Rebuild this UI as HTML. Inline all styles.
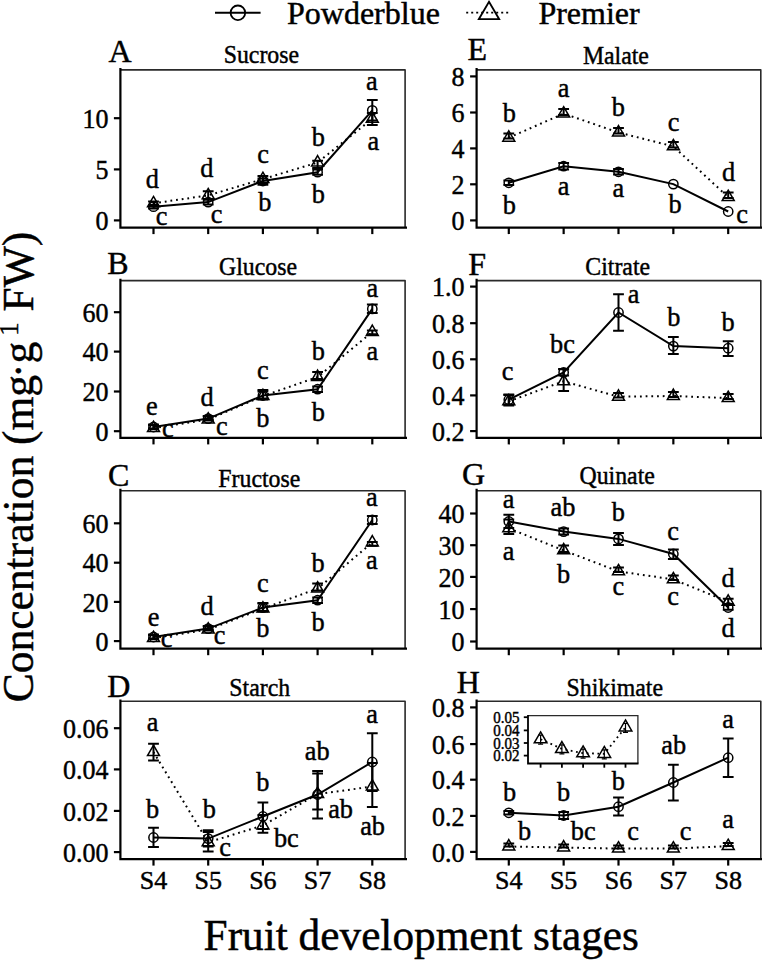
<!DOCTYPE html>
<html><head><meta charset="utf-8"><title>Fruit development stages</title>
<style>html,body{margin:0;padding:0;background:#fff;}svg{display:block;}text{stroke:#000;stroke-width:0.45px;}</style>
</head><body>
<svg width="762" height="960" viewBox="0 0 762 960" font-family='"Liberation Serif", serif'>
<rect width="762" height="960" fill="#fff"/>
<line x1="215" y1="12.8" x2="260.6" y2="12.8" stroke="#000" stroke-width="2"/>
<circle cx="237.9" cy="12.8" r="7.3" fill="none" stroke="#000" stroke-width="1.8"/>
<text x="287.00" y="23.90" font-size="32" text-anchor="start" >Powderblue</text>
<line x1="466.2" y1="12.6" x2="508.9" y2="12.6" stroke="#000" stroke-width="1.8" stroke-dasharray="2 3"/>
<polygon points="489,1.8 499.2,19.2 478.8,19.2" fill="none" stroke="#000" stroke-width="1.8"/>
<text x="538.40" y="23.90" font-size="32" text-anchor="start" >Premier</text>
<text transform="translate(33.3,702.3) rotate(-90)" font-size="43.5" text-anchor="start">Concentration (mg<tspan dx="-3">·g</tspan><tspan dx="6" dy="-15.5" font-size="26.5">1</tspan><tspan dy="15.5"> FW)</tspan></text>
<text x="203.60" y="950.30" font-size="43.3" text-anchor="start" >Fruit development stages</text>
<path d="M120.40,69.90 H405.10 V227.60" fill="none" stroke="#2a2a2a" stroke-width="1.6" stroke-linejoin="round"/>
<path d="M120.40,69.10 V227.60 H405.90" fill="none" stroke="#000" stroke-width="2.2" stroke-linecap="square"/>
<line x1="113.90" y1="220.40" x2="120.40" y2="220.40" stroke="#000" stroke-width="2.2"/>
<text transform="translate(108.40,230.00) scale(0.956,1)" font-size="27.2" text-anchor="end" >0</text>
<line x1="113.90" y1="169.40" x2="120.40" y2="169.40" stroke="#000" stroke-width="2.2"/>
<text transform="translate(108.40,179.00) scale(0.956,1)" font-size="27.2" text-anchor="end" >5</text>
<line x1="113.90" y1="118.20" x2="120.40" y2="118.20" stroke="#000" stroke-width="2.2"/>
<text transform="translate(108.40,127.80) scale(0.956,1)" font-size="27.2" text-anchor="end" >10</text>
<line x1="153.50" y1="227.60" x2="153.50" y2="234.10" stroke="#000" stroke-width="2.2"/>
<line x1="208.20" y1="227.60" x2="208.20" y2="234.10" stroke="#000" stroke-width="2.2"/>
<line x1="262.90" y1="227.60" x2="262.90" y2="234.10" stroke="#000" stroke-width="2.2"/>
<line x1="317.60" y1="227.60" x2="317.60" y2="234.10" stroke="#000" stroke-width="2.2"/>
<line x1="372.30" y1="227.60" x2="372.30" y2="234.10" stroke="#000" stroke-width="2.2"/>
<text x="108.40" y="62.00" font-size="32" text-anchor="start" >A</text>
<text transform="translate(261.40,62.90) scale(0.952,1)" font-size="25" text-anchor="middle" >Sucrose</text>
<polyline points="153.50,203.30 208.20,195.40 262.90,179.10 317.60,162.50 372.30,118.80" fill="none" stroke="#000" stroke-width="2.0" stroke-dasharray="1.8 3.9"/>
<polyline points="153.50,206.70 208.20,202.10 262.90,181.00 317.60,172.20 372.30,110.30" fill="none" stroke="#000" stroke-width="2.0"/>
<path d="M153.50,205.00 V208.50 M148.10,205.00 H158.90 M148.10,208.50 H158.90" fill="none" stroke="#000" stroke-width="2.0"/>
<path d="M208.20,199.50 V204.50 M202.80,199.50 H213.60 M202.80,204.50 H213.60" fill="none" stroke="#000" stroke-width="2.0"/>
<path d="M262.90,178.50 V183.10 M257.50,178.50 H268.30 M257.50,183.10 H268.30" fill="none" stroke="#000" stroke-width="2.0"/>
<path d="M317.60,169.50 V174.80 M312.20,169.50 H323.00 M312.20,174.80 H323.00" fill="none" stroke="#000" stroke-width="2.0"/>
<path d="M372.30,99.90 V120.50 M366.90,99.90 H377.70 M366.90,120.50 H377.70" fill="none" stroke="#000" stroke-width="2.0"/>
<path d="M153.50,201.50 V205.00 M148.10,201.50 H158.90 M148.10,205.00 H158.90" fill="none" stroke="#000" stroke-width="2.0"/>
<path d="M208.20,191.20 V199.50 M202.80,191.20 H213.60 M202.80,199.50 H213.60" fill="none" stroke="#000" stroke-width="2.0"/>
<path d="M262.90,176.00 V184.80 M257.50,176.00 H268.30 M257.50,184.80 H268.30" fill="none" stroke="#000" stroke-width="2.0"/>
<path d="M317.60,160.80 V168.10 M312.20,160.80 H323.00 M312.20,168.10 H323.00" fill="none" stroke="#000" stroke-width="2.0"/>
<path d="M372.30,113.00 V124.90 M366.90,113.00 H377.70 M366.90,124.90 H377.70" fill="none" stroke="#000" stroke-width="2.0"/>
<circle cx="153.50" cy="206.70" r="4.65" fill="none" stroke="#000" stroke-width="1.5"/>
<circle cx="208.20" cy="202.10" r="4.65" fill="none" stroke="#000" stroke-width="1.5"/>
<circle cx="262.90" cy="181.00" r="4.65" fill="none" stroke="#000" stroke-width="1.5"/>
<circle cx="317.60" cy="172.20" r="4.65" fill="none" stroke="#000" stroke-width="1.5"/>
<circle cx="372.30" cy="110.30" r="4.65" fill="none" stroke="#000" stroke-width="1.5"/>
<polygon points="153.50,196.38 159.49,206.76 147.51,206.76" fill="none" stroke="#000" stroke-width="1.5" stroke-linejoin="miter"/>
<polygon points="208.20,188.48 214.19,198.86 202.21,198.86" fill="none" stroke="#000" stroke-width="1.5" stroke-linejoin="miter"/>
<polygon points="262.90,172.18 268.89,182.56 256.91,182.56" fill="none" stroke="#000" stroke-width="1.5" stroke-linejoin="miter"/>
<polygon points="317.60,155.58 323.59,165.96 311.61,165.96" fill="none" stroke="#000" stroke-width="1.5" stroke-linejoin="miter"/>
<polygon points="372.30,111.88 378.29,122.26 366.31,122.26" fill="none" stroke="#000" stroke-width="1.5" stroke-linejoin="miter"/>
<text transform="translate(152.40,187.50) scale(0.975,1)" font-size="27.0" text-anchor="middle" >d</text>
<text transform="translate(161.60,224.70) scale(0.975,1)" font-size="27.0" text-anchor="middle" >c</text>
<text transform="translate(206.90,177.10) scale(0.975,1)" font-size="27.0" text-anchor="middle" >d</text>
<text transform="translate(216.60,222.60) scale(0.975,1)" font-size="27.0" text-anchor="middle" >c</text>
<text transform="translate(263.10,163.40) scale(0.975,1)" font-size="27.0" text-anchor="middle" >c</text>
<text transform="translate(264.80,210.60) scale(0.975,1)" font-size="27.0" text-anchor="middle" >b</text>
<text transform="translate(318.30,146.00) scale(0.975,1)" font-size="27.0" text-anchor="middle" >b</text>
<text transform="translate(318.30,202.90) scale(0.975,1)" font-size="27.0" text-anchor="middle" >b</text>
<text transform="translate(371.90,90.30) scale(0.975,1)" font-size="27.0" text-anchor="middle" >a</text>
<text transform="translate(373.30,149.70) scale(0.975,1)" font-size="27.0" text-anchor="middle" >a</text>
<path d="M120.40,280.60 H405.10 V437.90" fill="none" stroke="#2a2a2a" stroke-width="1.6" stroke-linejoin="round"/>
<path d="M120.40,279.80 V437.90 H405.90" fill="none" stroke="#000" stroke-width="2.2" stroke-linecap="square"/>
<line x1="113.90" y1="431.20" x2="120.40" y2="431.20" stroke="#000" stroke-width="2.2"/>
<text transform="translate(108.40,440.80) scale(0.956,1)" font-size="27.2" text-anchor="end" >0</text>
<line x1="113.90" y1="391.50" x2="120.40" y2="391.50" stroke="#000" stroke-width="2.2"/>
<text transform="translate(108.40,401.10) scale(0.956,1)" font-size="27.2" text-anchor="end" >20</text>
<line x1="113.90" y1="351.60" x2="120.40" y2="351.60" stroke="#000" stroke-width="2.2"/>
<text transform="translate(108.40,361.20) scale(0.956,1)" font-size="27.2" text-anchor="end" >40</text>
<line x1="113.90" y1="312.20" x2="120.40" y2="312.20" stroke="#000" stroke-width="2.2"/>
<text transform="translate(108.40,321.80) scale(0.956,1)" font-size="27.2" text-anchor="end" >60</text>
<line x1="153.50" y1="437.90" x2="153.50" y2="444.40" stroke="#000" stroke-width="2.2"/>
<line x1="208.20" y1="437.90" x2="208.20" y2="444.40" stroke="#000" stroke-width="2.2"/>
<line x1="262.90" y1="437.90" x2="262.90" y2="444.40" stroke="#000" stroke-width="2.2"/>
<line x1="317.60" y1="437.90" x2="317.60" y2="444.40" stroke="#000" stroke-width="2.2"/>
<line x1="372.30" y1="437.90" x2="372.30" y2="444.40" stroke="#000" stroke-width="2.2"/>
<text x="107.30" y="274.10" font-size="32" text-anchor="start" >B</text>
<text transform="translate(258.00,274.50) scale(0.952,1)" font-size="25" text-anchor="middle" >Glucose</text>
<polyline points="153.50,428.10 208.20,419.60 262.90,396.10 317.60,377.00 372.30,332.00" fill="none" stroke="#000" stroke-width="2.0" stroke-dasharray="1.8 3.9"/>
<polyline points="153.50,427.00 208.20,418.60 262.90,395.50 317.60,389.20 372.30,308.90" fill="none" stroke="#000" stroke-width="2.0"/>
<path d="M153.50,425.00 V429.00 M148.10,425.00 H158.90 M148.10,429.00 H158.90" fill="none" stroke="#000" stroke-width="2.0"/>
<path d="M208.20,416.50 V420.50 M202.80,416.50 H213.60 M202.80,420.50 H213.60" fill="none" stroke="#000" stroke-width="2.0"/>
<path d="M262.90,391.50 V399.50 M257.50,391.50 H268.30 M257.50,399.50 H268.30" fill="none" stroke="#000" stroke-width="2.0"/>
<path d="M317.60,386.50 V392.00 M312.20,386.50 H323.00 M312.20,392.00 H323.00" fill="none" stroke="#000" stroke-width="2.0"/>
<path d="M372.30,304.60 V312.90 M366.90,304.60 H377.70 M366.90,312.90 H377.70" fill="none" stroke="#000" stroke-width="2.0"/>
<path d="M153.50,424.50 V428.50 M148.10,424.50 H158.90 M148.10,428.50 H158.90" fill="none" stroke="#000" stroke-width="2.0"/>
<path d="M208.20,416.00 V420.00 M202.80,416.00 H213.60 M202.80,420.00 H213.60" fill="none" stroke="#000" stroke-width="2.0"/>
<path d="M262.90,390.00 V398.50 M257.50,390.00 H268.30 M257.50,398.50 H268.30" fill="none" stroke="#000" stroke-width="2.0"/>
<path d="M317.60,372.00 V379.00 M312.20,372.00 H323.00 M312.20,379.00 H323.00" fill="none" stroke="#000" stroke-width="2.0"/>
<path d="M372.30,330.60 V334.30 M366.90,330.60 H377.70 M366.90,334.30 H377.70" fill="none" stroke="#000" stroke-width="2.0"/>
<circle cx="153.50" cy="427.00" r="4.65" fill="none" stroke="#000" stroke-width="1.5"/>
<circle cx="208.20" cy="418.60" r="4.65" fill="none" stroke="#000" stroke-width="1.5"/>
<circle cx="262.90" cy="395.50" r="4.65" fill="none" stroke="#000" stroke-width="1.5"/>
<circle cx="317.60" cy="389.20" r="4.65" fill="none" stroke="#000" stroke-width="1.5"/>
<circle cx="372.30" cy="308.90" r="4.65" fill="none" stroke="#000" stroke-width="1.5"/>
<polygon points="153.50,421.18 159.49,431.56 147.51,431.56" fill="none" stroke="#000" stroke-width="1.5" stroke-linejoin="miter"/>
<polygon points="208.20,412.68 214.19,423.06 202.21,423.06" fill="none" stroke="#000" stroke-width="1.5" stroke-linejoin="miter"/>
<polygon points="262.90,389.18 268.89,399.56 256.91,399.56" fill="none" stroke="#000" stroke-width="1.5" stroke-linejoin="miter"/>
<polygon points="317.60,370.08 323.59,380.46 311.61,380.46" fill="none" stroke="#000" stroke-width="1.5" stroke-linejoin="miter"/>
<polygon points="372.30,325.08 378.29,335.46 366.31,335.46" fill="none" stroke="#000" stroke-width="1.5" stroke-linejoin="miter"/>
<text transform="translate(151.90,415.40) scale(0.975,1)" font-size="27.0" text-anchor="middle" >e</text>
<text transform="translate(167.90,437.40) scale(0.975,1)" font-size="27.0" text-anchor="middle" >c</text>
<text transform="translate(207.10,405.90) scale(0.975,1)" font-size="27.0" text-anchor="middle" >d</text>
<text transform="translate(221.80,434.70) scale(0.975,1)" font-size="27.0" text-anchor="middle" >c</text>
<text transform="translate(262.80,378.60) scale(0.975,1)" font-size="27.0" text-anchor="middle" >c</text>
<text transform="translate(262.80,426.90) scale(0.975,1)" font-size="27.0" text-anchor="middle" >b</text>
<text transform="translate(318.20,360.40) scale(0.975,1)" font-size="27.0" text-anchor="middle" >b</text>
<text transform="translate(318.20,420.60) scale(0.975,1)" font-size="27.0" text-anchor="middle" >b</text>
<text transform="translate(372.40,296.70) scale(0.975,1)" font-size="27.0" text-anchor="middle" >a</text>
<text transform="translate(372.40,359.70) scale(0.975,1)" font-size="27.0" text-anchor="middle" >a</text>
<path d="M120.40,490.70 H405.10 V648.70" fill="none" stroke="#2a2a2a" stroke-width="1.6" stroke-linejoin="round"/>
<path d="M120.40,489.90 V648.70 H405.90" fill="none" stroke="#000" stroke-width="2.2" stroke-linecap="square"/>
<line x1="113.90" y1="641.10" x2="120.40" y2="641.10" stroke="#000" stroke-width="2.2"/>
<text transform="translate(108.40,650.70) scale(0.956,1)" font-size="27.2" text-anchor="end" >0</text>
<line x1="113.90" y1="601.90" x2="120.40" y2="601.90" stroke="#000" stroke-width="2.2"/>
<text transform="translate(108.40,611.50) scale(0.956,1)" font-size="27.2" text-anchor="end" >20</text>
<line x1="113.90" y1="562.70" x2="120.40" y2="562.70" stroke="#000" stroke-width="2.2"/>
<text transform="translate(108.40,572.30) scale(0.956,1)" font-size="27.2" text-anchor="end" >40</text>
<line x1="113.90" y1="523.30" x2="120.40" y2="523.30" stroke="#000" stroke-width="2.2"/>
<text transform="translate(108.40,532.90) scale(0.956,1)" font-size="27.2" text-anchor="end" >60</text>
<line x1="153.50" y1="648.70" x2="153.50" y2="655.20" stroke="#000" stroke-width="2.2"/>
<line x1="208.20" y1="648.70" x2="208.20" y2="655.20" stroke="#000" stroke-width="2.2"/>
<line x1="262.90" y1="648.70" x2="262.90" y2="655.20" stroke="#000" stroke-width="2.2"/>
<line x1="317.60" y1="648.70" x2="317.60" y2="655.20" stroke="#000" stroke-width="2.2"/>
<line x1="372.30" y1="648.70" x2="372.30" y2="655.20" stroke="#000" stroke-width="2.2"/>
<text x="107.90" y="486.00" font-size="32" text-anchor="start" >C</text>
<text transform="translate(259.30,487.00) scale(0.952,1)" font-size="25" text-anchor="middle" >Fructose</text>
<polyline points="153.50,638.10 208.20,629.60 262.90,608.60 317.60,588.60 372.30,542.50" fill="none" stroke="#000" stroke-width="2.0" stroke-dasharray="1.8 3.9"/>
<polyline points="153.50,637.00 208.20,628.60 262.90,607.60 317.60,600.20 372.30,520.00" fill="none" stroke="#000" stroke-width="2.0"/>
<path d="M153.50,635.00 V639.00 M148.10,635.00 H158.90 M148.10,639.00 H158.90" fill="none" stroke="#000" stroke-width="2.0"/>
<path d="M208.20,626.50 V630.50 M202.80,626.50 H213.60 M202.80,630.50 H213.60" fill="none" stroke="#000" stroke-width="2.0"/>
<path d="M262.90,603.50 V611.50 M257.50,603.50 H268.30 M257.50,611.50 H268.30" fill="none" stroke="#000" stroke-width="2.0"/>
<path d="M317.60,597.50 V603.00 M312.20,597.50 H323.00 M312.20,603.00 H323.00" fill="none" stroke="#000" stroke-width="2.0"/>
<path d="M372.30,516.00 V524.00 M366.90,516.00 H377.70 M366.90,524.00 H377.70" fill="none" stroke="#000" stroke-width="2.0"/>
<path d="M153.50,634.50 V638.50 M148.10,634.50 H158.90 M148.10,638.50 H158.90" fill="none" stroke="#000" stroke-width="2.0"/>
<path d="M208.20,626.00 V630.00 M202.80,626.00 H213.60 M202.80,630.00 H213.60" fill="none" stroke="#000" stroke-width="2.0"/>
<path d="M262.90,603.00 V611.00 M257.50,603.00 H268.30 M257.50,611.00 H268.30" fill="none" stroke="#000" stroke-width="2.0"/>
<path d="M317.60,583.50 V590.50 M312.20,583.50 H323.00 M312.20,590.50 H323.00" fill="none" stroke="#000" stroke-width="2.0"/>
<path d="M372.30,541.90 V545.80 M366.90,541.90 H377.70 M366.90,545.80 H377.70" fill="none" stroke="#000" stroke-width="2.0"/>
<circle cx="153.50" cy="637.00" r="4.65" fill="none" stroke="#000" stroke-width="1.5"/>
<circle cx="208.20" cy="628.60" r="4.65" fill="none" stroke="#000" stroke-width="1.5"/>
<circle cx="262.90" cy="607.60" r="4.65" fill="none" stroke="#000" stroke-width="1.5"/>
<circle cx="317.60" cy="600.20" r="4.65" fill="none" stroke="#000" stroke-width="1.5"/>
<circle cx="372.30" cy="520.00" r="4.65" fill="none" stroke="#000" stroke-width="1.5"/>
<polygon points="153.50,631.18 159.49,641.56 147.51,641.56" fill="none" stroke="#000" stroke-width="1.5" stroke-linejoin="miter"/>
<polygon points="208.20,622.68 214.19,633.06 202.21,633.06" fill="none" stroke="#000" stroke-width="1.5" stroke-linejoin="miter"/>
<polygon points="262.90,601.68 268.89,612.06 256.91,612.06" fill="none" stroke="#000" stroke-width="1.5" stroke-linejoin="miter"/>
<polygon points="317.60,581.68 323.59,592.06 311.61,592.06" fill="none" stroke="#000" stroke-width="1.5" stroke-linejoin="miter"/>
<polygon points="372.30,535.58 378.29,545.96 366.31,545.96" fill="none" stroke="#000" stroke-width="1.5" stroke-linejoin="miter"/>
<text transform="translate(153.50,625.60) scale(0.975,1)" font-size="27.0" text-anchor="middle" >e</text>
<text transform="translate(166.60,647.40) scale(0.975,1)" font-size="27.0" text-anchor="middle" >c</text>
<text transform="translate(207.00,614.90) scale(0.975,1)" font-size="27.0" text-anchor="middle" >d</text>
<text transform="translate(219.70,644.30) scale(0.975,1)" font-size="27.0" text-anchor="middle" >c</text>
<text transform="translate(262.80,591.80) scale(0.975,1)" font-size="27.0" text-anchor="middle" >c</text>
<text transform="translate(262.80,636.90) scale(0.975,1)" font-size="27.0" text-anchor="middle" >b</text>
<text transform="translate(318.00,571.80) scale(0.975,1)" font-size="27.0" text-anchor="middle" >b</text>
<text transform="translate(318.00,630.60) scale(0.975,1)" font-size="27.0" text-anchor="middle" >b</text>
<text transform="translate(371.80,506.10) scale(0.975,1)" font-size="27.0" text-anchor="middle" >a</text>
<text transform="translate(371.80,568.70) scale(0.975,1)" font-size="27.0" text-anchor="middle" >a</text>
<path d="M120.40,701.30 H405.10 V859.10" fill="none" stroke="#2a2a2a" stroke-width="1.6" stroke-linejoin="round"/>
<path d="M120.40,700.50 V859.10 H405.90" fill="none" stroke="#000" stroke-width="2.2" stroke-linecap="square"/>
<line x1="113.90" y1="852.10" x2="120.40" y2="852.10" stroke="#000" stroke-width="2.2"/>
<text transform="translate(108.40,861.70) scale(0.956,1)" font-size="27.2" text-anchor="end" >0.00</text>
<line x1="113.90" y1="810.90" x2="120.40" y2="810.90" stroke="#000" stroke-width="2.2"/>
<text transform="translate(108.40,820.50) scale(0.956,1)" font-size="27.2" text-anchor="end" >0.02</text>
<line x1="113.90" y1="769.40" x2="120.40" y2="769.40" stroke="#000" stroke-width="2.2"/>
<text transform="translate(108.40,779.00) scale(0.956,1)" font-size="27.2" text-anchor="end" >0.04</text>
<line x1="113.90" y1="728.20" x2="120.40" y2="728.20" stroke="#000" stroke-width="2.2"/>
<text transform="translate(108.40,737.80) scale(0.956,1)" font-size="27.2" text-anchor="end" >0.06</text>
<line x1="153.50" y1="859.10" x2="153.50" y2="865.60" stroke="#000" stroke-width="2.2"/>
<line x1="208.20" y1="859.10" x2="208.20" y2="865.60" stroke="#000" stroke-width="2.2"/>
<line x1="262.90" y1="859.10" x2="262.90" y2="865.60" stroke="#000" stroke-width="2.2"/>
<line x1="317.60" y1="859.10" x2="317.60" y2="865.60" stroke="#000" stroke-width="2.2"/>
<line x1="372.30" y1="859.10" x2="372.30" y2="865.60" stroke="#000" stroke-width="2.2"/>
<text x="107.30" y="696.50" font-size="32" text-anchor="start" >D</text>
<text transform="translate(259.70,696.10) scale(0.952,1)" font-size="25" text-anchor="middle" >Starch</text>
<polyline points="153.50,752.10 208.20,842.30 262.90,825.50 317.60,794.00 372.30,786.60" fill="none" stroke="#000" stroke-width="2.0" stroke-dasharray="1.8 3.9"/>
<polyline points="153.50,837.50 208.20,838.60 262.90,816.50 317.60,794.50 372.30,762.00" fill="none" stroke="#000" stroke-width="2.0"/>
<path d="M153.50,827.70 V847.00 M148.10,827.70 H158.90 M148.10,847.00 H158.90" fill="none" stroke="#000" stroke-width="2.0"/>
<path d="M208.20,830.20 V846.50 M202.80,830.20 H213.60 M202.80,846.50 H213.60" fill="none" stroke="#000" stroke-width="2.0"/>
<path d="M262.90,802.50 V829.00 M257.50,802.50 H268.30 M257.50,829.00 H268.30" fill="none" stroke="#000" stroke-width="2.0"/>
<path d="M317.60,771.00 V818.60 M312.20,771.00 H323.00 M312.20,818.60 H323.00" fill="none" stroke="#000" stroke-width="2.0"/>
<path d="M372.30,733.20 V791.00 M366.90,733.20 H377.70 M366.90,791.00 H377.70" fill="none" stroke="#000" stroke-width="2.0"/>
<path d="M153.50,743.80 V760.40 M148.10,743.80 H158.90 M148.10,760.40 H158.90" fill="none" stroke="#000" stroke-width="2.0"/>
<path d="M208.20,832.00 V851.60 M202.80,832.00 H213.60 M202.80,851.60 H213.60" fill="none" stroke="#000" stroke-width="2.0"/>
<path d="M262.90,815.00 V832.70 M257.50,815.00 H268.30 M257.50,832.70 H268.30" fill="none" stroke="#000" stroke-width="2.0"/>
<path d="M317.60,773.50 V809.60 M312.20,773.50 H323.00 M312.20,809.60 H323.00" fill="none" stroke="#000" stroke-width="2.0"/>
<path d="M372.30,763.00 V807.00 M366.90,763.00 H377.70 M366.90,807.00 H377.70" fill="none" stroke="#000" stroke-width="2.0"/>
<circle cx="153.50" cy="837.50" r="4.65" fill="none" stroke="#000" stroke-width="1.5"/>
<circle cx="208.20" cy="838.60" r="4.65" fill="none" stroke="#000" stroke-width="1.5"/>
<circle cx="262.90" cy="816.50" r="4.65" fill="none" stroke="#000" stroke-width="1.5"/>
<circle cx="317.60" cy="794.50" r="4.65" fill="none" stroke="#000" stroke-width="1.5"/>
<circle cx="372.30" cy="762.00" r="4.65" fill="none" stroke="#000" stroke-width="1.5"/>
<polygon points="153.50,745.18 159.49,755.56 147.51,755.56" fill="none" stroke="#000" stroke-width="1.5" stroke-linejoin="miter"/>
<polygon points="208.20,835.38 214.19,845.76 202.21,845.76" fill="none" stroke="#000" stroke-width="1.5" stroke-linejoin="miter"/>
<polygon points="262.90,818.58 268.89,828.96 256.91,828.96" fill="none" stroke="#000" stroke-width="1.5" stroke-linejoin="miter"/>
<polygon points="317.60,787.08 323.59,797.46 311.61,797.46" fill="none" stroke="#000" stroke-width="1.5" stroke-linejoin="miter"/>
<polygon points="372.30,779.68 378.29,790.06 366.31,790.06" fill="none" stroke="#000" stroke-width="1.5" stroke-linejoin="miter"/>
<text transform="translate(152.50,731.40) scale(0.975,1)" font-size="27.0" text-anchor="middle" >a</text>
<text transform="translate(152.50,817.50) scale(0.975,1)" font-size="27.0" text-anchor="middle" >b</text>
<text transform="translate(209.20,817.50) scale(0.975,1)" font-size="27.0" text-anchor="middle" >b</text>
<text transform="translate(225.00,856.40) scale(0.975,1)" font-size="27.0" text-anchor="middle" >c</text>
<text transform="translate(262.70,790.90) scale(0.975,1)" font-size="27.0" text-anchor="middle" >b</text>
<text transform="translate(286.30,846.90) scale(0.975,1)" font-size="27.0" text-anchor="middle" >bc</text>
<text transform="translate(317.20,759.80) scale(0.975,1)" font-size="27.0" text-anchor="middle" >ab</text>
<text transform="translate(340.60,817.50) scale(0.975,1)" font-size="27.0" text-anchor="middle" >ab</text>
<text transform="translate(372.20,723.00) scale(0.975,1)" font-size="27.0" text-anchor="middle" >a</text>
<text transform="translate(372.60,835.40) scale(0.975,1)" font-size="27.0" text-anchor="middle" >ab</text>
<path d="M476.60,69.90 H760.80 V227.60" fill="none" stroke="#2a2a2a" stroke-width="1.6" stroke-linejoin="round"/>
<path d="M476.60,69.10 V227.60 H761.60" fill="none" stroke="#000" stroke-width="2.2" stroke-linecap="square"/>
<line x1="470.10" y1="220.40" x2="476.60" y2="220.40" stroke="#000" stroke-width="2.2"/>
<text transform="translate(464.60,230.00) scale(0.956,1)" font-size="27.2" text-anchor="end" >0</text>
<line x1="470.10" y1="184.30" x2="476.60" y2="184.30" stroke="#000" stroke-width="2.2"/>
<text transform="translate(464.60,193.90) scale(0.956,1)" font-size="27.2" text-anchor="end" >2</text>
<line x1="470.10" y1="148.40" x2="476.60" y2="148.40" stroke="#000" stroke-width="2.2"/>
<text transform="translate(464.60,158.00) scale(0.956,1)" font-size="27.2" text-anchor="end" >4</text>
<line x1="470.10" y1="112.50" x2="476.60" y2="112.50" stroke="#000" stroke-width="2.2"/>
<text transform="translate(464.60,122.10) scale(0.956,1)" font-size="27.2" text-anchor="end" >6</text>
<line x1="470.10" y1="76.40" x2="476.60" y2="76.40" stroke="#000" stroke-width="2.2"/>
<text transform="translate(464.60,86.00) scale(0.956,1)" font-size="27.2" text-anchor="end" >8</text>
<line x1="508.80" y1="227.60" x2="508.80" y2="234.10" stroke="#000" stroke-width="2.2"/>
<line x1="563.65" y1="227.60" x2="563.65" y2="234.10" stroke="#000" stroke-width="2.2"/>
<line x1="618.50" y1="227.60" x2="618.50" y2="234.10" stroke="#000" stroke-width="2.2"/>
<line x1="673.35" y1="227.60" x2="673.35" y2="234.10" stroke="#000" stroke-width="2.2"/>
<line x1="728.20" y1="227.60" x2="728.20" y2="234.10" stroke="#000" stroke-width="2.2"/>
<text x="467.50" y="60.40" font-size="32" text-anchor="start" >E</text>
<text transform="translate(615.90,64.10) scale(0.952,1)" font-size="25" text-anchor="middle" >Malate</text>
<polyline points="508.80,137.70 563.65,113.60 618.50,132.50 673.35,146.40 728.20,197.10" fill="none" stroke="#000" stroke-width="2.0" stroke-dasharray="1.8 3.9"/>
<polyline points="508.80,182.80 563.65,166.20 618.50,171.80 673.35,184.10 728.20,211.50" fill="none" stroke="#000" stroke-width="2.0"/>
<path d="M508.80,180.50 V185.00 M503.40,180.50 H514.20 M503.40,185.00 H514.20" fill="none" stroke="#000" stroke-width="2.0"/>
<path d="M563.65,163.00 V169.50 M558.25,163.00 H569.05 M558.25,169.50 H569.05" fill="none" stroke="#000" stroke-width="2.0"/>
<path d="M618.50,169.00 V174.50 M613.10,169.00 H623.90 M613.10,174.50 H623.90" fill="none" stroke="#000" stroke-width="2.0"/>
<path d="M508.80,133.50 V138.50 M503.40,133.50 H514.20 M503.40,138.50 H514.20" fill="none" stroke="#000" stroke-width="2.0"/>
<path d="M563.65,109.00 V115.00 M558.25,109.00 H569.05 M558.25,115.00 H569.05" fill="none" stroke="#000" stroke-width="2.0"/>
<path d="M618.50,128.00 V133.50 M613.10,128.00 H623.90 M613.10,133.50 H623.90" fill="none" stroke="#000" stroke-width="2.0"/>
<path d="M673.35,142.00 V147.50 M667.95,142.00 H678.75 M667.95,147.50 H678.75" fill="none" stroke="#000" stroke-width="2.0"/>
<path d="M728.20,192.50 V198.00 M722.80,192.50 H733.60 M722.80,198.00 H733.60" fill="none" stroke="#000" stroke-width="2.0"/>
<circle cx="508.80" cy="182.80" r="4.65" fill="none" stroke="#000" stroke-width="1.5"/>
<circle cx="563.65" cy="166.20" r="4.65" fill="none" stroke="#000" stroke-width="1.5"/>
<circle cx="618.50" cy="171.80" r="4.65" fill="none" stroke="#000" stroke-width="1.5"/>
<circle cx="673.35" cy="184.10" r="4.65" fill="none" stroke="#000" stroke-width="1.5"/>
<circle cx="728.20" cy="211.50" r="4.65" fill="none" stroke="#000" stroke-width="1.5"/>
<polygon points="508.80,130.78 514.79,141.16 502.81,141.16" fill="none" stroke="#000" stroke-width="1.5" stroke-linejoin="miter"/>
<polygon points="563.65,106.68 569.64,117.06 557.66,117.06" fill="none" stroke="#000" stroke-width="1.5" stroke-linejoin="miter"/>
<polygon points="618.50,125.58 624.49,135.96 612.51,135.96" fill="none" stroke="#000" stroke-width="1.5" stroke-linejoin="miter"/>
<polygon points="673.35,139.48 679.34,149.86 667.36,149.86" fill="none" stroke="#000" stroke-width="1.5" stroke-linejoin="miter"/>
<polygon points="728.20,190.18 734.19,200.56 722.21,200.56" fill="none" stroke="#000" stroke-width="1.5" stroke-linejoin="miter"/>
<text transform="translate(509.20,122.40) scale(0.975,1)" font-size="27.0" text-anchor="middle" >b</text>
<text transform="translate(509.20,213.80) scale(0.975,1)" font-size="27.0" text-anchor="middle" >b</text>
<text transform="translate(563.60,97.20) scale(0.975,1)" font-size="27.0" text-anchor="middle" >a</text>
<text transform="translate(563.60,194.90) scale(0.975,1)" font-size="27.0" text-anchor="middle" >a</text>
<text transform="translate(618.40,116.10) scale(0.975,1)" font-size="27.0" text-anchor="middle" >b</text>
<text transform="translate(618.40,197.00) scale(0.975,1)" font-size="27.0" text-anchor="middle" >a</text>
<text transform="translate(673.70,130.50) scale(0.975,1)" font-size="27.0" text-anchor="middle" >c</text>
<text transform="translate(675.00,212.50) scale(0.975,1)" font-size="27.0" text-anchor="middle" >b</text>
<text transform="translate(728.60,180.80) scale(0.975,1)" font-size="27.0" text-anchor="middle" >d</text>
<text transform="translate(742.10,223.40) scale(0.975,1)" font-size="27.0" text-anchor="middle" >c</text>
<path d="M476.60,280.60 H760.80 V437.90" fill="none" stroke="#2a2a2a" stroke-width="1.6" stroke-linejoin="round"/>
<path d="M476.60,279.80 V437.90 H761.60" fill="none" stroke="#000" stroke-width="2.2" stroke-linecap="square"/>
<line x1="470.10" y1="431.10" x2="476.60" y2="431.10" stroke="#000" stroke-width="2.2"/>
<text transform="translate(464.60,440.70) scale(0.956,1)" font-size="27.2" text-anchor="end" >0.2</text>
<line x1="470.10" y1="395.40" x2="476.60" y2="395.40" stroke="#000" stroke-width="2.2"/>
<text transform="translate(464.60,405.00) scale(0.956,1)" font-size="27.2" text-anchor="end" >0.4</text>
<line x1="470.10" y1="359.30" x2="476.60" y2="359.30" stroke="#000" stroke-width="2.2"/>
<text transform="translate(464.60,368.90) scale(0.956,1)" font-size="27.2" text-anchor="end" >0.6</text>
<line x1="470.10" y1="323.20" x2="476.60" y2="323.20" stroke="#000" stroke-width="2.2"/>
<text transform="translate(464.60,332.80) scale(0.956,1)" font-size="27.2" text-anchor="end" >0.8</text>
<line x1="470.10" y1="286.60" x2="476.60" y2="286.60" stroke="#000" stroke-width="2.2"/>
<text transform="translate(464.60,296.20) scale(0.956,1)" font-size="27.2" text-anchor="end" >1.0</text>
<line x1="508.80" y1="437.90" x2="508.80" y2="444.40" stroke="#000" stroke-width="2.2"/>
<line x1="563.65" y1="437.90" x2="563.65" y2="444.40" stroke="#000" stroke-width="2.2"/>
<line x1="618.50" y1="437.90" x2="618.50" y2="444.40" stroke="#000" stroke-width="2.2"/>
<line x1="673.35" y1="437.90" x2="673.35" y2="444.40" stroke="#000" stroke-width="2.2"/>
<line x1="728.20" y1="437.90" x2="728.20" y2="444.40" stroke="#000" stroke-width="2.2"/>
<text x="468.30" y="275.40" font-size="32" text-anchor="start" >F</text>
<text transform="translate(617.70,275.30) scale(0.952,1)" font-size="25" text-anchor="middle" >Citrate</text>
<polyline points="508.80,401.30 563.65,381.30 618.50,396.70 673.35,396.00 728.20,398.10" fill="none" stroke="#000" stroke-width="2.0" stroke-dasharray="1.8 3.9"/>
<polyline points="508.80,399.70 563.65,372.40 618.50,312.50 673.35,346.10 728.20,348.20" fill="none" stroke="#000" stroke-width="2.0"/>
<path d="M508.80,394.40 V405.60 M503.40,394.40 H514.20 M503.40,405.60 H514.20" fill="none" stroke="#000" stroke-width="2.0"/>
<path d="M563.65,369.20 V375.60 M558.25,369.20 H569.05 M558.25,375.60 H569.05" fill="none" stroke="#000" stroke-width="2.0"/>
<path d="M618.50,294.30 V330.80 M613.10,294.30 H623.90 M613.10,330.80 H623.90" fill="none" stroke="#000" stroke-width="2.0"/>
<path d="M673.35,337.10 V353.90 M667.95,337.10 H678.75 M667.95,353.90 H678.75" fill="none" stroke="#000" stroke-width="2.0"/>
<path d="M728.20,341.30 V356.00 M722.80,341.30 H733.60 M722.80,356.00 H733.60" fill="none" stroke="#000" stroke-width="2.0"/>
<path d="M508.80,395.00 V404.50 M503.40,395.00 H514.20 M503.40,404.50 H514.20" fill="none" stroke="#000" stroke-width="2.0"/>
<path d="M563.65,369.00 V390.90 M558.25,369.00 H569.05 M558.25,390.90 H569.05" fill="none" stroke="#000" stroke-width="2.0"/>
<path d="M618.50,393.00 V397.50 M613.10,393.00 H623.90 M613.10,397.50 H623.90" fill="none" stroke="#000" stroke-width="2.0"/>
<path d="M673.35,392.00 V397.00 M667.95,392.00 H678.75 M667.95,397.00 H678.75" fill="none" stroke="#000" stroke-width="2.0"/>
<path d="M728.20,394.00 V399.00 M722.80,394.00 H733.60 M722.80,399.00 H733.60" fill="none" stroke="#000" stroke-width="2.0"/>
<circle cx="508.80" cy="399.70" r="4.65" fill="none" stroke="#000" stroke-width="1.5"/>
<circle cx="563.65" cy="372.40" r="4.65" fill="none" stroke="#000" stroke-width="1.5"/>
<circle cx="618.50" cy="312.50" r="4.65" fill="none" stroke="#000" stroke-width="1.5"/>
<circle cx="673.35" cy="346.10" r="4.65" fill="none" stroke="#000" stroke-width="1.5"/>
<circle cx="728.20" cy="348.20" r="4.65" fill="none" stroke="#000" stroke-width="1.5"/>
<polygon points="508.80,394.38 514.79,404.76 502.81,404.76" fill="none" stroke="#000" stroke-width="1.5" stroke-linejoin="miter"/>
<polygon points="563.65,374.38 569.64,384.76 557.66,384.76" fill="none" stroke="#000" stroke-width="1.5" stroke-linejoin="miter"/>
<polygon points="618.50,389.78 624.49,400.16 612.51,400.16" fill="none" stroke="#000" stroke-width="1.5" stroke-linejoin="miter"/>
<polygon points="673.35,389.08 679.34,399.46 667.36,399.46" fill="none" stroke="#000" stroke-width="1.5" stroke-linejoin="miter"/>
<polygon points="728.20,391.18 734.19,401.56 722.21,401.56" fill="none" stroke="#000" stroke-width="1.5" stroke-linejoin="miter"/>
<text transform="translate(507.50,379.70) scale(0.975,1)" font-size="27.0" text-anchor="middle" >c</text>
<text transform="translate(562.40,353.00) scale(0.975,1)" font-size="27.0" text-anchor="middle" >bc</text>
<text transform="translate(633.50,303.00) scale(0.975,1)" font-size="27.0" text-anchor="middle" >a</text>
<text transform="translate(673.80,326.10) scale(0.975,1)" font-size="27.0" text-anchor="middle" >b</text>
<text transform="translate(728.00,331.40) scale(0.975,1)" font-size="27.0" text-anchor="middle" >b</text>
<path d="M476.60,490.70 H760.80 V648.70" fill="none" stroke="#2a2a2a" stroke-width="1.6" stroke-linejoin="round"/>
<path d="M476.60,489.90 V648.70 H761.60" fill="none" stroke="#000" stroke-width="2.2" stroke-linecap="square"/>
<line x1="470.10" y1="641.50" x2="476.60" y2="641.50" stroke="#000" stroke-width="2.2"/>
<text transform="translate(464.60,651.10) scale(0.956,1)" font-size="27.2" text-anchor="end" >0</text>
<line x1="470.10" y1="609.10" x2="476.60" y2="609.10" stroke="#000" stroke-width="2.2"/>
<text transform="translate(464.60,618.70) scale(0.956,1)" font-size="27.2" text-anchor="end" >10</text>
<line x1="470.10" y1="576.90" x2="476.60" y2="576.90" stroke="#000" stroke-width="2.2"/>
<text transform="translate(464.60,586.50) scale(0.956,1)" font-size="27.2" text-anchor="end" >20</text>
<line x1="470.10" y1="545.20" x2="476.60" y2="545.20" stroke="#000" stroke-width="2.2"/>
<text transform="translate(464.60,554.80) scale(0.956,1)" font-size="27.2" text-anchor="end" >30</text>
<line x1="470.10" y1="513.50" x2="476.60" y2="513.50" stroke="#000" stroke-width="2.2"/>
<text transform="translate(464.60,523.10) scale(0.956,1)" font-size="27.2" text-anchor="end" >40</text>
<line x1="508.80" y1="648.70" x2="508.80" y2="655.20" stroke="#000" stroke-width="2.2"/>
<line x1="563.65" y1="648.70" x2="563.65" y2="655.20" stroke="#000" stroke-width="2.2"/>
<line x1="618.50" y1="648.70" x2="618.50" y2="655.20" stroke="#000" stroke-width="2.2"/>
<line x1="673.35" y1="648.70" x2="673.35" y2="655.20" stroke="#000" stroke-width="2.2"/>
<line x1="728.20" y1="648.70" x2="728.20" y2="655.20" stroke="#000" stroke-width="2.2"/>
<text x="462.10" y="485.20" font-size="32" text-anchor="start" >G</text>
<text transform="translate(617.20,483.60) scale(0.952,1)" font-size="25" text-anchor="middle" >Quinate</text>
<polyline points="508.80,528.30 563.65,550.40 618.50,571.40 673.35,579.40 728.20,601.70" fill="none" stroke="#000" stroke-width="2.0" stroke-dasharray="1.8 3.9"/>
<polyline points="508.80,521.50 563.65,531.60 618.50,538.90 673.35,554.00 728.20,607.50" fill="none" stroke="#000" stroke-width="2.0"/>
<path d="M508.80,514.80 V528.00 M503.40,514.80 H514.20 M503.40,528.00 H514.20" fill="none" stroke="#000" stroke-width="2.0"/>
<path d="M563.65,528.50 V534.50 M558.25,528.50 H569.05 M558.25,534.50 H569.05" fill="none" stroke="#000" stroke-width="2.0"/>
<path d="M618.50,533.00 V545.00 M613.10,533.00 H623.90 M613.10,545.00 H623.90" fill="none" stroke="#000" stroke-width="2.0"/>
<path d="M673.35,549.40 V558.90 M667.95,549.40 H678.75 M667.95,558.90 H678.75" fill="none" stroke="#000" stroke-width="2.0"/>
<path d="M728.20,604.00 V609.70 M722.80,604.00 H733.60 M722.80,609.70 H733.60" fill="none" stroke="#000" stroke-width="2.0"/>
<path d="M508.80,519.50 V534.10 M503.40,519.50 H514.20 M503.40,534.10 H514.20" fill="none" stroke="#000" stroke-width="2.0"/>
<path d="M563.65,545.50 V552.00 M558.25,545.50 H569.05 M558.25,552.00 H569.05" fill="none" stroke="#000" stroke-width="2.0"/>
<path d="M618.50,567.50 V572.00 M613.10,567.50 H623.90 M613.10,572.00 H623.90" fill="none" stroke="#000" stroke-width="2.0"/>
<path d="M673.35,575.50 V580.00 M667.95,575.50 H678.75 M667.95,580.00 H678.75" fill="none" stroke="#000" stroke-width="2.0"/>
<path d="M728.20,598.70 V604.50 M722.80,598.70 H733.60 M722.80,604.50 H733.60" fill="none" stroke="#000" stroke-width="2.0"/>
<circle cx="508.80" cy="521.50" r="4.65" fill="none" stroke="#000" stroke-width="1.5"/>
<circle cx="563.65" cy="531.60" r="4.65" fill="none" stroke="#000" stroke-width="1.5"/>
<circle cx="618.50" cy="538.90" r="4.65" fill="none" stroke="#000" stroke-width="1.5"/>
<circle cx="673.35" cy="554.00" r="4.65" fill="none" stroke="#000" stroke-width="1.5"/>
<circle cx="728.20" cy="607.50" r="4.65" fill="none" stroke="#000" stroke-width="1.5"/>
<polygon points="508.80,521.38 514.79,531.76 502.81,531.76" fill="none" stroke="#000" stroke-width="1.5" stroke-linejoin="miter"/>
<polygon points="563.65,543.48 569.64,553.86 557.66,553.86" fill="none" stroke="#000" stroke-width="1.5" stroke-linejoin="miter"/>
<polygon points="618.50,564.48 624.49,574.86 612.51,574.86" fill="none" stroke="#000" stroke-width="1.5" stroke-linejoin="miter"/>
<polygon points="673.35,572.48 679.34,582.86 667.36,582.86" fill="none" stroke="#000" stroke-width="1.5" stroke-linejoin="miter"/>
<polygon points="728.20,594.78 734.19,605.16 722.21,605.16" fill="none" stroke="#000" stroke-width="1.5" stroke-linejoin="miter"/>
<text transform="translate(508.50,507.80) scale(0.975,1)" font-size="27.0" text-anchor="middle" >a</text>
<text transform="translate(508.50,559.90) scale(0.975,1)" font-size="27.0" text-anchor="middle" >a</text>
<text transform="translate(563.00,516.20) scale(0.975,1)" font-size="27.0" text-anchor="middle" >ab</text>
<text transform="translate(563.60,583.40) scale(0.975,1)" font-size="27.0" text-anchor="middle" >b</text>
<text transform="translate(618.40,521.40) scale(0.975,1)" font-size="27.0" text-anchor="middle" >b</text>
<text transform="translate(618.40,595.40) scale(0.975,1)" font-size="27.0" text-anchor="middle" >c</text>
<text transform="translate(673.00,540.30) scale(0.975,1)" font-size="27.0" text-anchor="middle" >c</text>
<text transform="translate(673.00,605.00) scale(0.975,1)" font-size="27.0" text-anchor="middle" >c</text>
<text transform="translate(728.00,586.50) scale(0.975,1)" font-size="27.0" text-anchor="middle" >d</text>
<text transform="translate(728.00,636.50) scale(0.975,1)" font-size="27.0" text-anchor="middle" >d</text>
<path d="M476.60,701.30 H760.80 V859.10" fill="none" stroke="#2a2a2a" stroke-width="1.6" stroke-linejoin="round"/>
<path d="M476.60,700.50 V859.10 H761.60" fill="none" stroke="#000" stroke-width="2.2" stroke-linecap="square"/>
<line x1="470.10" y1="851.90" x2="476.60" y2="851.90" stroke="#000" stroke-width="2.2"/>
<text transform="translate(464.60,861.50) scale(0.956,1)" font-size="27.2" text-anchor="end" >0.0</text>
<line x1="470.10" y1="815.90" x2="476.60" y2="815.90" stroke="#000" stroke-width="2.2"/>
<text transform="translate(464.60,825.50) scale(0.956,1)" font-size="27.2" text-anchor="end" >0.2</text>
<line x1="470.10" y1="779.70" x2="476.60" y2="779.70" stroke="#000" stroke-width="2.2"/>
<text transform="translate(464.60,789.30) scale(0.956,1)" font-size="27.2" text-anchor="end" >0.4</text>
<line x1="470.10" y1="744.10" x2="476.60" y2="744.10" stroke="#000" stroke-width="2.2"/>
<text transform="translate(464.60,753.70) scale(0.956,1)" font-size="27.2" text-anchor="end" >0.6</text>
<line x1="470.10" y1="707.40" x2="476.60" y2="707.40" stroke="#000" stroke-width="2.2"/>
<text transform="translate(464.60,717.00) scale(0.956,1)" font-size="27.2" text-anchor="end" >0.8</text>
<line x1="508.80" y1="859.10" x2="508.80" y2="865.60" stroke="#000" stroke-width="2.2"/>
<line x1="563.65" y1="859.10" x2="563.65" y2="865.60" stroke="#000" stroke-width="2.2"/>
<line x1="618.50" y1="859.10" x2="618.50" y2="865.60" stroke="#000" stroke-width="2.2"/>
<line x1="673.35" y1="859.10" x2="673.35" y2="865.60" stroke="#000" stroke-width="2.2"/>
<line x1="728.20" y1="859.10" x2="728.20" y2="865.60" stroke="#000" stroke-width="2.2"/>
<text x="456.70" y="693.30" font-size="32" text-anchor="start" >H</text>
<text transform="translate(614.80,696.10) scale(0.952,1)" font-size="25" text-anchor="middle" >Shikimate</text>
<polyline points="508.80,846.50 563.65,847.50 618.50,848.60 673.35,848.60 728.20,846.10" fill="none" stroke="#000" stroke-width="2.0" stroke-dasharray="1.8 3.9"/>
<polyline points="508.80,812.80 563.65,815.50 618.50,806.70 673.35,782.50 728.20,757.70" fill="none" stroke="#000" stroke-width="2.0"/>
<path d="M508.80,811.00 V814.60 M503.40,811.00 H514.20 M503.40,814.60 H514.20" fill="none" stroke="#000" stroke-width="2.0"/>
<path d="M563.65,812.00 V819.00 M558.25,812.00 H569.05 M558.25,819.00 H569.05" fill="none" stroke="#000" stroke-width="2.0"/>
<path d="M618.50,797.60 V815.50 M613.10,797.60 H623.90 M613.10,815.50 H623.90" fill="none" stroke="#000" stroke-width="2.0"/>
<path d="M673.35,764.70 V800.40 M667.95,764.70 H678.75 M667.95,800.40 H678.75" fill="none" stroke="#000" stroke-width="2.0"/>
<path d="M728.20,738.40 V777.10 M722.80,738.40 H733.60 M722.80,777.10 H733.60" fill="none" stroke="#000" stroke-width="2.0"/>
<path d="M508.80,843.50 V846.50 M503.40,843.50 H514.20 M503.40,846.50 H514.20" fill="none" stroke="#000" stroke-width="2.0"/>
<path d="M563.65,844.50 V847.50 M558.25,844.50 H569.05 M558.25,847.50 H569.05" fill="none" stroke="#000" stroke-width="2.0"/>
<path d="M618.50,845.50 V848.50 M613.10,845.50 H623.90 M613.10,848.50 H623.90" fill="none" stroke="#000" stroke-width="2.0"/>
<path d="M673.35,845.50 V848.50 M667.95,845.50 H678.75 M667.95,848.50 H678.75" fill="none" stroke="#000" stroke-width="2.0"/>
<path d="M728.20,843.00 V846.00 M722.80,843.00 H733.60 M722.80,846.00 H733.60" fill="none" stroke="#000" stroke-width="2.0"/>
<circle cx="508.80" cy="812.80" r="4.65" fill="none" stroke="#000" stroke-width="1.5"/>
<circle cx="563.65" cy="815.50" r="4.65" fill="none" stroke="#000" stroke-width="1.5"/>
<circle cx="618.50" cy="806.70" r="4.65" fill="none" stroke="#000" stroke-width="1.5"/>
<circle cx="673.35" cy="782.50" r="4.65" fill="none" stroke="#000" stroke-width="1.5"/>
<circle cx="728.20" cy="757.70" r="4.65" fill="none" stroke="#000" stroke-width="1.5"/>
<polygon points="508.80,839.58 514.79,849.96 502.81,849.96" fill="none" stroke="#000" stroke-width="1.5" stroke-linejoin="miter"/>
<polygon points="563.65,840.58 569.64,850.96 557.66,850.96" fill="none" stroke="#000" stroke-width="1.5" stroke-linejoin="miter"/>
<polygon points="618.50,841.68 624.49,852.06 612.51,852.06" fill="none" stroke="#000" stroke-width="1.5" stroke-linejoin="miter"/>
<polygon points="673.35,841.68 679.34,852.06 667.36,852.06" fill="none" stroke="#000" stroke-width="1.5" stroke-linejoin="miter"/>
<polygon points="728.20,839.18 734.19,849.56 722.21,849.56" fill="none" stroke="#000" stroke-width="1.5" stroke-linejoin="miter"/>
<text transform="translate(509.60,800.70) scale(0.975,1)" font-size="27.0" text-anchor="middle" >b</text>
<text transform="translate(524.50,839.60) scale(0.975,1)" font-size="27.0" text-anchor="middle" >b</text>
<text transform="translate(563.60,800.70) scale(0.975,1)" font-size="27.0" text-anchor="middle" >b</text>
<text transform="translate(583.20,839.60) scale(0.975,1)" font-size="27.0" text-anchor="middle" >bc</text>
<text transform="translate(618.40,790.20) scale(0.975,1)" font-size="27.0" text-anchor="middle" >b</text>
<text transform="translate(633.20,839.60) scale(0.975,1)" font-size="27.0" text-anchor="middle" >c</text>
<text transform="translate(673.70,753.50) scale(0.975,1)" font-size="27.0" text-anchor="middle" >ab</text>
<text transform="translate(685.50,839.60) scale(0.975,1)" font-size="27.0" text-anchor="middle" >c</text>
<text transform="translate(728.00,728.30) scale(0.975,1)" font-size="27.0" text-anchor="middle" >a</text>
<text transform="translate(728.00,828.00) scale(0.975,1)" font-size="27.0" text-anchor="middle" >a</text>
<text x="153.50" y="888.60" font-size="26" text-anchor="middle" >S4</text>
<text x="208.20" y="888.60" font-size="26" text-anchor="middle" >S5</text>
<text x="262.90" y="888.60" font-size="26" text-anchor="middle" >S6</text>
<text x="317.60" y="888.60" font-size="26" text-anchor="middle" >S7</text>
<text x="372.30" y="888.60" font-size="26" text-anchor="middle" >S8</text>
<text x="508.80" y="888.60" font-size="26" text-anchor="middle" >S4</text>
<text x="563.65" y="888.60" font-size="26" text-anchor="middle" >S5</text>
<text x="618.50" y="888.60" font-size="26" text-anchor="middle" >S6</text>
<text x="673.35" y="888.60" font-size="26" text-anchor="middle" >S7</text>
<text x="728.20" y="888.60" font-size="26" text-anchor="middle" >S8</text>
<path d="M528.0,715.6 H637.9 V763.5" fill="none" stroke="#2a2a2a" stroke-width="1.3"/>
<path d="M528.0,715.0 V763.5 H638.5" fill="none" stroke="#000" stroke-width="1.8"/>
<line x1="523.8" y1="717.2" x2="528.0" y2="717.2" stroke="#000" stroke-width="1.8"/>
<text transform="translate(519.50,723.00) scale(0.885,1)" font-size="17" text-anchor="end" >0.05</text>
<line x1="523.8" y1="730.4" x2="528.0" y2="730.4" stroke="#000" stroke-width="1.8"/>
<text transform="translate(519.50,736.20) scale(0.885,1)" font-size="17" text-anchor="end" >0.04</text>
<line x1="523.8" y1="743.0" x2="528.0" y2="743.0" stroke="#000" stroke-width="1.8"/>
<text transform="translate(519.50,748.80) scale(0.885,1)" font-size="17" text-anchor="end" >0.03</text>
<line x1="523.8" y1="755.6" x2="528.0" y2="755.6" stroke="#000" stroke-width="1.8"/>
<text transform="translate(519.50,761.40) scale(0.885,1)" font-size="17" text-anchor="end" >0.02</text>
<line x1="540.6" y1="763.5" x2="540.6" y2="767.7" stroke="#000" stroke-width="1.8"/>
<line x1="561.9" y1="763.5" x2="561.9" y2="767.7" stroke="#000" stroke-width="1.8"/>
<line x1="583.1" y1="763.5" x2="583.1" y2="767.7" stroke="#000" stroke-width="1.8"/>
<line x1="604.3" y1="763.5" x2="604.3" y2="767.7" stroke="#000" stroke-width="1.8"/>
<line x1="625.5" y1="763.5" x2="625.5" y2="767.7" stroke="#000" stroke-width="1.8"/>
<polyline points="540.60,739.20 561.90,748.90 583.10,753.20 604.30,753.80 625.50,727.30" fill="none" stroke="#000" stroke-width="1.8" stroke-dasharray="1.8 3.6"/>
<path d="M540.60,735.20 V744.20 M538.10,735.20 H543.10 M538.10,744.20 H543.10" fill="none" stroke="#000" stroke-width="1.2"/>
<polygon points="540.60,731.89 546.93,742.86 534.27,742.86" fill="none" stroke="#000" stroke-width="1.5"/>
<path d="M561.90,744.90 V753.90 M559.40,744.90 H564.40 M559.40,753.90 H564.40" fill="none" stroke="#000" stroke-width="1.2"/>
<polygon points="561.90,741.59 568.23,752.56 555.57,752.56" fill="none" stroke="#000" stroke-width="1.5"/>
<path d="M583.10,749.20 V758.20 M580.60,749.20 H585.60 M580.60,758.20 H585.60" fill="none" stroke="#000" stroke-width="1.2"/>
<polygon points="583.10,745.89 589.43,756.86 576.77,756.86" fill="none" stroke="#000" stroke-width="1.5"/>
<path d="M604.30,749.80 V758.80 M601.80,749.80 H606.80 M601.80,758.80 H606.80" fill="none" stroke="#000" stroke-width="1.2"/>
<polygon points="604.30,746.49 610.63,757.46 597.97,757.46" fill="none" stroke="#000" stroke-width="1.5"/>
<path d="M625.50,723.30 V732.30 M623.00,723.30 H628.00 M623.00,732.30 H628.00" fill="none" stroke="#000" stroke-width="1.2"/>
<polygon points="625.50,719.99 631.83,730.96 619.17,730.96" fill="none" stroke="#000" stroke-width="1.5"/>
</svg>
</body></html>
